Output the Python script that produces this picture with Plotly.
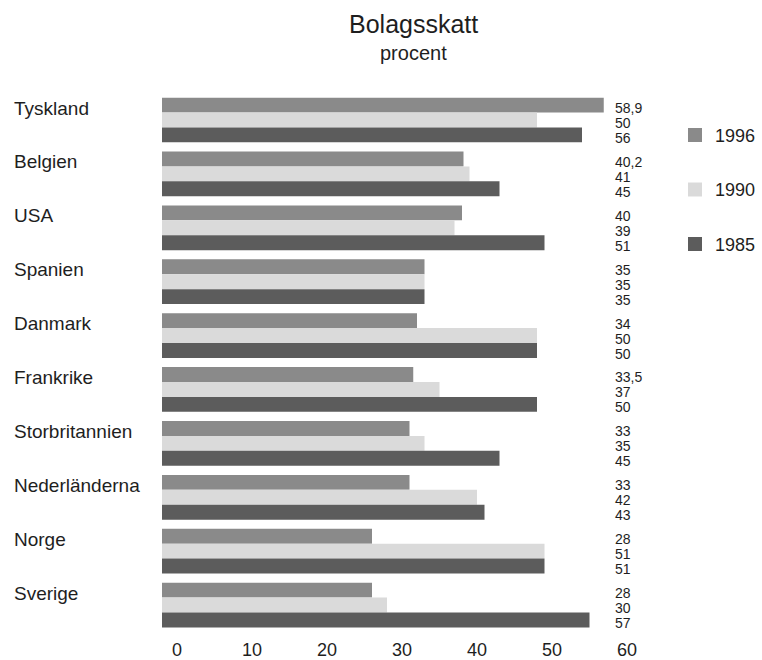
import plotly.graph_objects as go

# Corporate tax rates (percent) by country and year
countries = ["Tyskland", "Belgien", "USA", "Spanien", "Danmark", "Frankrike",
             "Storbritannien", "Nederländerna", "Norge", "Sverige"]
years = ["1996", "1990", "1985"]
rate_1996 = [58.9, 40.2, 40, 35, 34, 33.5, 33, 33, 28, 28]
rate_1990 = [50, 41, 39, 35, 50, 37, 35, 42, 51, 30]
rate_1985 = [56, 45, 51, 35, 50, 50, 45, 43, 51, 57]
x_ticks = [0, 10, 20, 30, 40, 50, 60]

series = [rate_1996, rate_1990, rate_1985]
colors = ["#8a8a8a", "#dadada", "#5c5c5c"]

FONT = "Liberation Sans, Arial, Helvetica, sans-serif"
TEXT = "#1e1e1e"

W, H = 762, 660
M_L, M_R, M_T, M_B = 162, 150, 92, 28
PW, PH = W - M_L - M_R, H - M_T - M_B


def px_x(px):
    """Pixel column -> paper x."""
    return (px - M_L) / PW


def px_y(py):
    """Pixel row -> paper y."""
    return 1 - (py - M_T) / PH


fig = go.Figure()
for year, vals, col in zip(years, series, colors):
    fig.add_trace(go.Bar(
        y=countries, x=vals, name=year, orientation="h",
        marker=dict(color=col, line=dict(width=0)),
        showlegend=False, hoverinfo="x+y",
    ))

annotations = []
shapes = []

# Country names, level with the upper bar of each group
for c in countries:
    annotations.append(dict(
        xref="paper", yref="y", x=0, y=c, xshift=-150, yshift=12,
        xanchor="left", yanchor="middle", showarrow=False,
        text=c, font=dict(family=FONT, size=19, color=TEXT),
    ))

# Value labels stacked to the right of the plot, one per bar
shifts = [12, -3, -18]
for vals, dy in zip(series, shifts):
    for c, v in zip(countries, vals):
        label = f"{v:g}".replace(".", ",")
        annotations.append(dict(
            xref="paper", yref="y", x=1, y=c, xshift=1, yshift=dy,
            xanchor="left", yanchor="middle", showarrow=False,
            text=label, font=dict(family=FONT, size=14, color=TEXT),
        ))

# Key: one swatch and year per series
for i, (year, col) in enumerate(zip(years, colors)):
    cy = 135 + 54.5 * i
    shapes.append(dict(
        type="rect", xref="paper", yref="paper",
        x0=px_x(688), x1=px_x(702), y0=px_y(cy - 7), y1=px_y(cy + 7),
        fillcolor=col, line=dict(width=0), layer="above",
    ))
    annotations.append(dict(
        xref="paper", yref="paper", x=px_x(713), y=px_y(cy + 1),
        xanchor="left", yanchor="middle", showarrow=False,
        text=year, font=dict(family=FONT, size=18, color=TEXT),
    ))

# Title and unit
annotations.append(dict(
    xref="paper", yref="paper", x=px_x(413), y=px_y(24),
    xanchor="center", yanchor="middle", showarrow=False,
    text="Bolagsskatt", font=dict(family=FONT, size=25, color=TEXT),
))
annotations.append(dict(
    xref="paper", yref="paper", x=px_x(413), y=px_y(53),
    xanchor="center", yanchor="middle", showarrow=False,
    text="procent", font=dict(family=FONT, size=20, color=TEXT),
))

fig.update_layout(
    width=W, height=H,
    margin=dict(l=M_L, r=M_R, t=M_T, b=M_B, autoexpand=False),
    paper_bgcolor="white", plot_bgcolor="white",
    barmode="group", bargap=0.17, bargroupgap=0,
    font=dict(family=FONT, color=TEXT),
    showlegend=False,
    xaxis=dict(
        range=[0, 60], tickvals=x_ticks, ticktext=[str(t) for t in x_ticks],
        showgrid=False, zeroline=False, showline=False, ticks="",
        ticklabelshift=15, ticklabelstandoff=5,
        tickfont=dict(family=FONT, size=18, color=TEXT),
        fixedrange=True,
    ),
    yaxis=dict(
        categoryorder="array", categoryarray=countries, autorange="reversed",
        showticklabels=False, showgrid=False, zeroline=False, showline=False,
        ticks="", fixedrange=True,
    ),
    annotations=annotations,
    shapes=shapes,
)

fig.write_html("out.html")
